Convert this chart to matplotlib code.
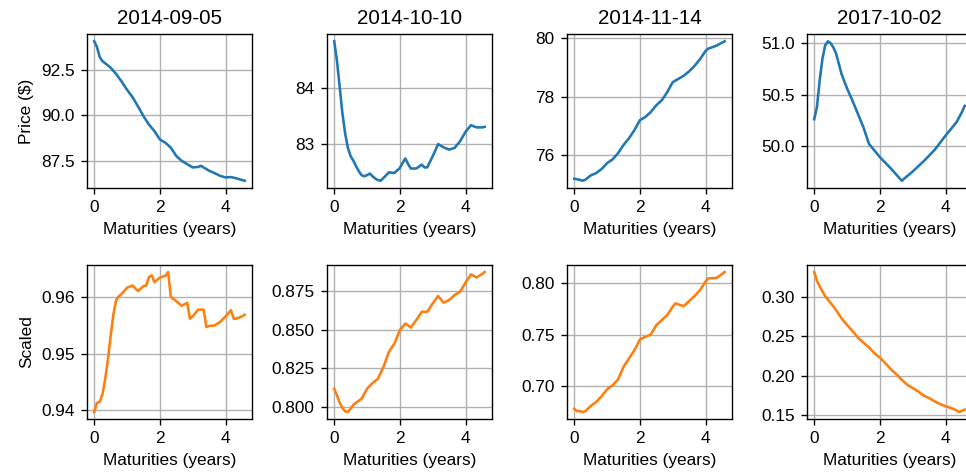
import matplotlib

matplotlib.use("Agg")
import matplotlib.pyplot as plt
import numpy as np

plt.rcParams["font.family"] = ["Liberation Sans", "DejaVu Sans"]

DATES = ["2014-09-05", "2014-10-10", "2014-11-14", "2017-10-02"]

# Maturities are stored in months, one list per curve
PRICE_MONTHS = [
    [0, 1, 2, 3, 4, 6, 8, 10, 12, 14, 16, 18, 20, 22, 24, 26, 28, 30, 32, 34,
     36, 38, 39, 40, 42, 44, 46, 48, 50, 52, 54, 55],
    [0, 1, 2, 3, 4, 5, 6, 7, 8, 9, 10, 11, 12, 13, 14, 15, 16, 17, 18, 20, 22,
     24, 25, 26, 27, 28, 30, 32, 33, 34, 36, 38, 40, 42, 44, 46, 48, 50, 52,
     54, 55],
    [0, 2, 3, 4, 6, 8, 10, 12, 14, 16, 18, 20, 22, 24, 26, 28, 30, 32, 34, 36,
     38, 40, 42, 44, 46, 48, 49, 50, 52, 54, 55],
    [0, 1, 2, 3, 4, 5, 6, 7, 8, 9, 10, 12, 14, 16, 18, 20, 24, 28, 32, 36, 40,
     44, 48, 52, 54, 55],
]
PRICES = [
    [94.07, 93.76, 93.2, 92.98, 92.86, 92.62, 92.27, 91.86, 91.40, 91.0,
     90.49, 89.95, 89.49, 89.13, 88.67, 88.49, 88.22, 87.76, 87.49, 87.31,
     87.13, 87.16, 87.22, 87.13, 86.95, 86.82, 86.67, 86.58, 86.6, 86.53,
     86.44, 86.4],
    [84.84, 84.49, 84.02, 83.54, 83.18, 82.92, 82.77, 82.69, 82.59, 82.5,
     82.43, 82.41, 82.43, 82.46, 82.41, 82.37, 82.34, 82.33, 82.38, 82.48,
     82.47, 82.56, 82.65, 82.73, 82.63, 82.55, 82.55, 82.62, 82.57, 82.57,
     82.77, 82.99, 82.93, 82.89, 82.92, 83.04, 83.21, 83.33, 83.29, 83.29,
     83.30],
    [75.2, 75.16, 75.13, 75.16, 75.31, 75.39, 75.53, 75.73, 75.86, 76.07,
     76.35, 76.58, 76.86, 77.2, 77.31, 77.48, 77.71, 77.88, 78.16, 78.5,
     78.61, 78.72, 78.87, 79.06, 79.29, 79.57, 79.65, 79.68, 79.75, 79.85,
     79.9],
    [50.26, 50.38, 50.64, 50.85, 50.98, 51.02, 51.0, 50.96, 50.9, 50.8, 50.7,
     50.56, 50.44, 50.31, 50.18, 50.02, 49.89, 49.78, 49.66, 49.75, 49.85,
     49.96, 50.10, 50.23, 50.33, 50.39],
]

SCALED_MONTHS = [
    [0, 1, 2, 3, 4, 5, 6, 7, 8, 9, 10, 12, 14, 16, 18, 19, 20, 21, 22, 24, 26,
     27, 28, 30, 32, 34, 35, 36, 38, 40, 41, 42, 44, 46, 48, 50, 51, 52, 54,
     55],
    [0, 1, 2, 3, 4, 5, 6, 7, 8, 10, 12, 14, 16, 18, 20, 22, 24, 26, 28, 30, 32,
     34, 36, 38, 40, 42, 44, 46, 48, 50, 52, 54, 55],
    [0, 1, 2, 3, 4, 6, 8, 10, 12, 14, 16, 18, 20, 22, 24, 26, 28, 30, 32, 34,
     36, 37, 40, 42, 44, 46, 48, 49, 52, 54, 55],
    [0, 1, 2, 4, 6, 8, 10, 12, 14, 16, 18, 20, 22, 24, 26, 28, 30, 32, 34, 36,
     38, 40, 42, 44, 46, 48, 50, 52, 53, 54, 55],
]
SCALED = [
    [0.9396, 0.9412, 0.9414, 0.9427, 0.9454, 0.9489, 0.9531, 0.9569, 0.9595,
     0.9602, 0.9606, 0.9617, 0.9621, 0.9611, 0.962, 0.9621, 0.9636, 0.9639,
     0.9627, 0.9635, 0.9638, 0.9645, 0.9601, 0.9593, 0.9585, 0.959, 0.9562,
     0.9566, 0.9578, 0.9578, 0.9547, 0.9549, 0.955, 0.9556, 0.9566, 0.9577,
     0.9562, 0.9562, 0.9566, 0.9569],
    [0.8118, 0.8075, 0.8027, 0.7993, 0.7971, 0.7967, 0.7988, 0.8014, 0.8027,
     0.8053, 0.8118, 0.8155, 0.8183, 0.8259, 0.8357, 0.8411, 0.8498, 0.8541,
     0.8515, 0.8563, 0.8617, 0.8617, 0.8671, 0.8719, 0.8676, 0.8693, 0.8725,
     0.8747, 0.8806, 0.886, 0.884, 0.886, 0.8875],
    [0.678, 0.6757, 0.6757, 0.6748, 0.6754, 0.6806, 0.6845, 0.6901, 0.6969,
     0.7008, 0.7064, 0.7187, 0.7269, 0.735, 0.7454, 0.748, 0.7503, 0.7594,
     0.7643, 0.7692, 0.7774, 0.7806, 0.778, 0.7829, 0.7878, 0.7936, 0.8018,
     0.805, 0.8054, 0.809, 0.8112],
    [0.3311, 0.3197, 0.313, 0.3004, 0.292, 0.2828, 0.2723, 0.2639, 0.2563,
     0.2479, 0.2416, 0.2357, 0.2282, 0.2227, 0.2156, 0.208, 0.2017, 0.1946,
     0.1883, 0.1841, 0.1799, 0.1744, 0.1715, 0.1673, 0.1639, 0.161, 0.1589,
     0.1559, 0.1538, 0.1552, 0.1568],
]

DPI = 124
W, H = 966, 474
fig = plt.figure(figsize=(W / DPI, H / DPI), dpi=DPI)

# axes boxes in pixels: left edges per column, (top, bottom) per row
col_left = [86.7, 326.7, 566.7, 806.7]
ax_width = 165.5
rows = [(34.3, 187.7), (265.0, 419.0)]

for r, (months_set, values_set, color, ylabel) in enumerate([
    (PRICE_MONTHS, PRICES, "C0", "Price (\\$)"),
    (SCALED_MONTHS, SCALED, "C1", "Scaled"),
]):
    top, bottom = rows[r]
    for c in range(4):
        rect = [col_left[c] / W, 1 - bottom / H, ax_width / W, (bottom - top) / H]
        ax = fig.add_axes(rect)
        x = np.array(months_set[c]) / 12.0
        ax.plot(x, values_set[c], color=color, lw=1.5)
        ax.grid(True)
        ax.set_xlabel("Maturities (years)")
        if r == 0:
            ax.set_title(DATES[c])
        if c == 0:
            ax.set_ylabel(ylabel)

fig.savefig("out.png", dpi=DPI)
